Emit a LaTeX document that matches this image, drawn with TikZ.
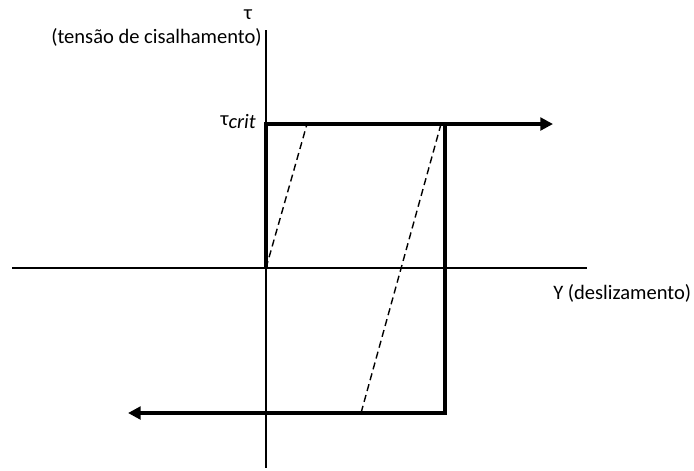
\documentclass[tikz,border=0pt]{standalone}
\usepackage{fontspec}
\setmainfont{Carlito}
\usetikzlibrary{arrows.meta,positioning}
\tikzset{axis/.style={draw, line width=1.1pt}}
\tikzset{loop/.style={draw, line width=2.9pt, -{Triangle[length=9pt,width=9pt]}}}
\tikzset{elastic/.style={draw, line width=1pt, dash pattern=on 5pt off 3pt}}
\tikzset{lbl/.style={inner sep=0pt, font=\fontsize{14.6}{16}\selectfont}}
\begin{document}
\begin{tikzpicture}[x=0.025cm, y=-0.025cm]
        \useasboundingbox (0,0) rectangle (694,470);
        % axes
        \coordinate (O) at (266,268);
        \coordinate (ytop) at (266,30);
        \coordinate (ybot) at (266,468);
        \coordinate (xleft) at (12,268);
        \coordinate (xright) at (587,268);
        \path[axis] (ytop) -- (ybot);
        \path[axis] (xleft) -- (xright);
        % corners of the loop
        \coordinate (A) at (266,124);
        \coordinate (B) at (445,124);
        \coordinate (C) at (445,413);
        \coordinate (Aend) at (553,124);
        \coordinate (Cend) at (128,413);
        \path[loop] (O) -- (A) -- (Aend);
        \path[loop] (B) -- (C) -- (Cend);
        % unloading lines
        \coordinate (D1) at (307,124);
        \coordinate (D2) at (441,124);
        \coordinate (D3) at (361,413);
        \path[elastic] (O) -- (D1);
        \path[elastic] (D2) -- (D3);
        % labels
        \node[lbl] (tau) at (248,15) {τ};
        \node[lbl, anchor=east] (shear) at (262,37) {(tensão de cisalhamento)};
        \node[lbl, anchor=east] (crit) at (256,122) {τ\raisebox{-0.35ex}{\itshape crit}};
        \node[lbl, anchor=west] (gamma) at (553,293) {Υ (deslizamento)};
\end{tikzpicture}
\end{document}
